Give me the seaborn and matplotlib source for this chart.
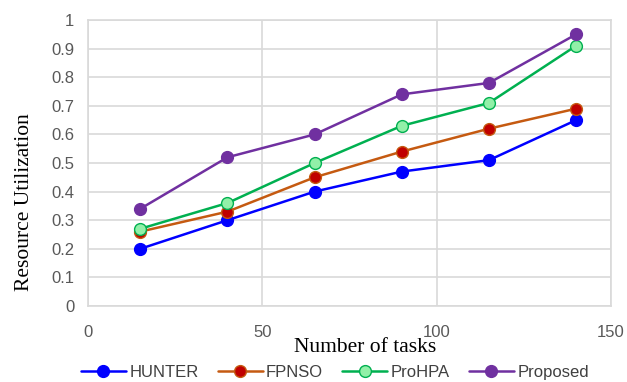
import matplotlib
matplotlib.use("Agg")
import matplotlib.pyplot as plt
import seaborn as sns
import pandas as pd

tasks = [15, 40, 65, 90, 115, 140]
hunter = [0.20, 0.30, 0.40, 0.47, 0.51, 0.65]
fpnso = [0.26, 0.33, 0.45, 0.54, 0.62, 0.69]
prohpa = [0.27, 0.36, 0.50, 0.63, 0.71, 0.91]
proposed = [0.34, 0.52, 0.60, 0.74, 0.78, 0.95]
methods = ["HUNTER", "FPNSO", "ProHPA", "Proposed"]

df = pd.DataFrame({
    "tasks": tasks * 4,
    "util": hunter + fpnso + prohpa + proposed,
    "method": [m for m in methods for _ in tasks],
})

sns.set_theme(style="white")
plt.rcParams["font.family"] = ["Liberation Sans", "DejaVu Sans"]

line_colors = {"HUNTER": "#0000FF", "FPNSO": "#C55A11", "ProHPA": "#00B050", "Proposed": "#7030A0"}
face_colors = {"HUNTER": "#0000FF", "FPNSO": "#C00000", "ProHPA": "#92F0A8", "Proposed": "#7030A0"}

fig = plt.figure(figsize=(6.27, 3.82), dpi=100)
ax = fig.add_axes([0.1404, 0.199, 0.8341, 0.7486])

for m in methods:
    sub = df[df["method"] == m]
    sns.lineplot(data=sub, x="tasks", y="util", ax=ax, color=line_colors[m],
                 linewidth=1.8, marker="o", markersize=8.5,
                 markerfacecolor=face_colors[m], markeredgecolor=line_colors[m],
                 markeredgewidth=1.0, label=m)

ax.set_xlim(0, 150)
ax.set_ylim(0, 1)
ax.set_xticks([0, 50, 100, 150])
ax.set_yticks([0, 0.1, 0.2, 0.3, 0.4, 0.5, 0.6, 0.7, 0.8, 0.9, 1.0])
ax.set_yticklabels(["0", "0.1", "0.2", "0.3", "0.4", "0.5", "0.6", "0.7", "0.8", "0.9", "1"])
ax.grid(True, color="#D9D9D9", linewidth=1.2)
ax.set_axisbelow(True)
for s in ax.spines.values():
    s.set_color("#D9D9D9")
    s.set_linewidth(1.2)
ax.tick_params(axis="both", length=0, labelsize=12, colors="#595959")
ax.tick_params(axis="x", pad=14)
ax.tick_params(axis="y", pad=10)

ax.set_xlabel("Number of tasks", family="Liberation Serif", fontsize=15.5, color="black")
ax.xaxis.set_label_coords(0.53, -0.112)
ax.set_ylabel("Resource Utilization", family="Liberation Serif", fontsize=15.5, color="black")
ax.yaxis.set_label_coords(-0.104, 0.364)

leg = ax.legend(loc="center", bbox_to_anchor=(0.534, 0.026), bbox_transform=fig.transFigure,
                ncol=4, frameon=False, fontsize=12, handlelength=2.7,
                columnspacing=1.15, handletextpad=0.2, borderpad=0.1)
for t in leg.get_texts():
    t.set_color("#404040")

fig.savefig("out.png", dpi=100)
